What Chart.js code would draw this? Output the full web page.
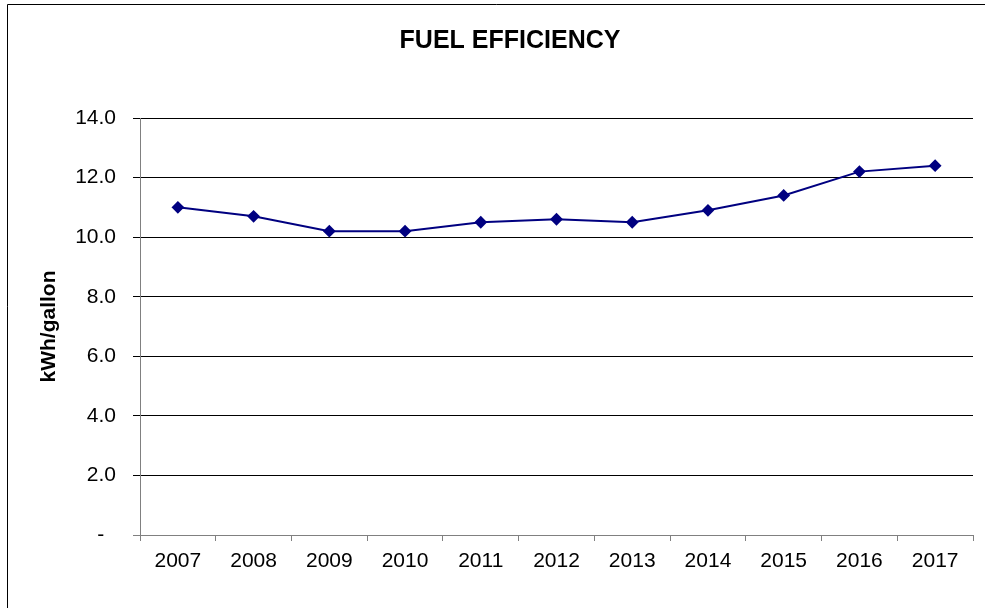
<!DOCTYPE html>
<html>
<head>
<meta charset="utf-8">
<script src="https://cdn.jsdelivr.net/npm/chart.js@4.4.1/dist/chart.umd.min.js"></script>
<style>
  html, body { margin: 0; padding: 0; background: #fff; }
  #wrap { position: relative; width: 985px; height: 608px; }
</style>
</head>
<body>
<div id="wrap"><canvas id="c" width="985" height="608"></canvas></div>
<script>
const years = ['2007','2008','2009','2010','2011','2012','2013','2014','2015','2016','2017'];
const efficiency = [11.0, 10.7, 10.2, 10.2, 10.5, 10.6, 10.5, 10.9, 11.4, 12.2, 12.4];
const chartTitle = 'FUEL EFFICIENCY';
const yAxisTitle = 'kWh/gallon';
const yMin = 0, yMax = 14, yStep = 2;

const framePlugin = {
  id: 'frame',
  afterDraw(chart) {
    const ctx = chart.ctx;
    ctx.save();
    ctx.strokeStyle = '#000';
    ctx.lineWidth = 1;
    ctx.beginPath();
    ctx.moveTo(7.5, 608);
    ctx.lineTo(7.5, 4.5);
    ctx.lineTo(985, 4.5);
    ctx.stroke();
    ctx.fillStyle = '#000';
    ctx.font = 'bold 25px "Liberation Sans"';
    ctx.textAlign = 'center';
    ctx.textBaseline = 'middle';
    ctx.fillText(chartTitle, 510, 41);
    ctx.restore();
  }
};

new Chart(document.getElementById('c'), {
  type: 'line',
  data: {
    labels: years,
    datasets: [{
      data: efficiency,
      borderColor: '#000080',
      backgroundColor: '#000080',
      borderWidth: 2,
      pointStyle: 'rectRot',
      pointRadius: 5,
      pointHoverRadius: 5,
      pointBackgroundColor: '#000080',
      pointBorderColor: '#000080',
      tension: 0,
      fill: false
    }]
  },
  options: {
    responsive: false,
    animation: false,
    events: [],
    layout: { padding: { left: 0, right: 12, top: 118, bottom: 0 } },
    plugins: {
      legend: { display: false },
      tooltip: { enabled: false },
      title: { display: false }
    },
    scales: {
      x: {
        offset: true,
        grid: {
          offset: true,
          drawOnChartArea: false,
          drawTicks: true,
          tickLength: 6,
          color: '#808080'
        },
        border: { display: true, color: '#808080', width: 1 },
        ticks: {
          color: '#000',
          font: { family: 'Liberation Sans', size: 21 },
          padding: 8,
          maxRotation: 0,
          autoSkip: false
        },
        afterFit(scale) { scale.height = 73; }
      },
      y: {
        min: yMin,
        max: yMax,
        grid: {
          color: (c) => (c.tick && c.tick.value === 0) ? '#808080' : '#000',
          tickColor: (c) => (c.tick && c.tick.value === 0) ? '#808080' : '#000',
          tickLength: 7,
          drawTicks: true
        },
        border: { display: true, color: '#808080', width: 1 },
        ticks: {
          stepSize: yStep,
          color: '#000',
          font: { family: 'Liberation Sans', size: 21 },
          padding: 17,
          callback: (v) => v === 0 ? '-  ' : v.toFixed(1)
        },
        title: {
          display: true,
          text: yAxisTitle,
          color: '#000',
          font: { family: 'Liberation Sans', size: 21, weight: 'bold' },
          padding: { top: 37, bottom: 0 }
        },
        afterFit(scale) { scale.width = 140; }
      }
    }
  },
  plugins: [framePlugin]
});
</script>
</body>
</html>
